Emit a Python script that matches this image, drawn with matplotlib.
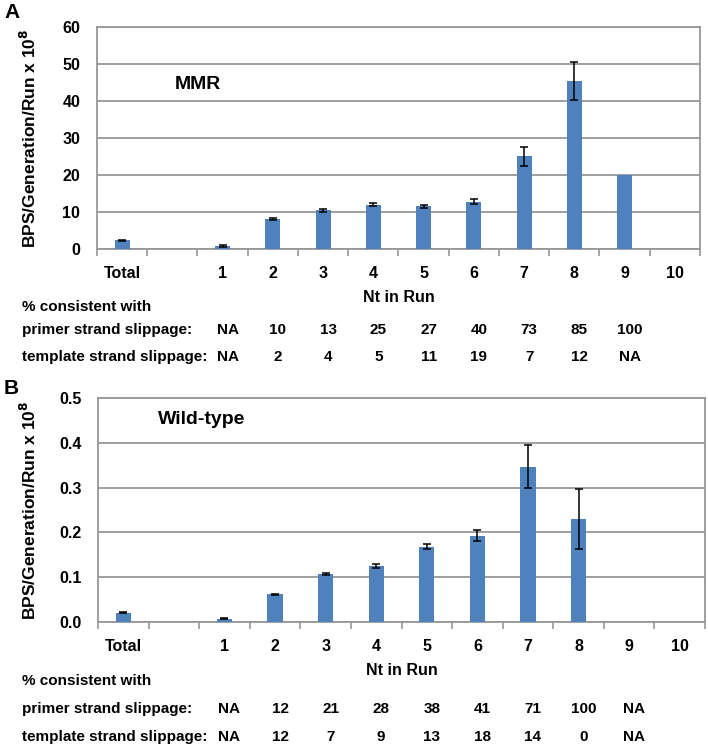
import matplotlib.pyplot as plt
import numpy as np

plt.rcParams['font.family'] = ['Liberation Sans', 'DejaVu Sans']
plt.rcParams['font.weight'] = 'bold'
plt.rcParams['mathtext.default'] = 'bf'

categories = ['Total', '', '1', '2', '3', '4', '5', '6', '7', '8', '9', '10']

# panel A, MMR
mmr_vals = [2.3, 0, 0.8, 8.1, 10.5, 12.0, 11.5, 12.8, 25.1, 45.4, 20.0, 0]
mmr_err = [0.2, 0, 0.15, 0.3, 0.4, 0.4, 0.5, 0.7, 2.6, 5.2, 0, 0]
mmr_primer = ['NA', '10', '13', '25', '27', '40', '73', '85', '100']
mmr_template = ['NA', '2', '4', '5', '11', '19', '7', '12', 'NA']

# panel B, wild-type
wt_vals = [0.021, 0, 0.0075, 0.062, 0.108, 0.125, 0.168, 0.193, 0.346, 0.230, 0, 0]
wt_err = [0.001, 0, 0.001, 0.001, 0.002, 0.004, 0.006, 0.013, 0.048, 0.066, 0, 0]
wt_primer = ['NA', '12', '21', '28', '38', '41', '71', '100', 'NA']
wt_template = ['NA', '12', '7', '9', '13', '18', '14', '0', 'NA']

# table columns sit under Nt = 1..9
table_cols = ['1', '2', '3', '4', '5', '6', '7', '8', '9']

bar_color = '#4F81BD'
grid_color = '#979797'
W, H = 708.0, 746.0

fig = plt.figure(figsize=(7.08, 7.46), dpi=100)
axA = fig.add_axes([97 / W, 1 - 249 / H, 603 / W, 222 / H])
axB = fig.add_axes([98 / W, 1 - 622 / H, 607 / W, 224 / H])


def draw_panel(ax, vals, err, ymax, ystep, fmt, name, name_xy):
    x = np.arange(len(categories))
    e = [v if v > 0 else np.nan for v in err]
    ax.bar(x, vals, width=0.3, color=bar_color, zorder=3)
    ax.errorbar(x, vals, yerr=e, fmt='none', ecolor='black',
                elinewidth=1.1, capsize=2.8, capthick=1.1, zorder=4)
    ax.set_xlim(-0.5, len(categories) - 0.5)
    ax.set_ylim(0, ymax)
    yt = np.arange(0, ymax + ystep / 2, ystep)
    ax.set_yticks(yt)
    ax.set_yticklabels([fmt.format(v) for v in yt], fontsize=11.5, fontweight='bold')
    ax.yaxis.grid(True, color=grid_color, linewidth=1.3, zorder=0)
    ax.tick_params(axis='y', length=0, pad=12)
    # outward ticks between categories, labels centred on the bars
    ax.set_xticks(np.arange(len(categories) + 1) - 0.5)
    ax.set_xticklabels([])
    ax.set_xticks(x, minor=True)
    ax.set_xticklabels(categories, minor=True, fontsize=11.5, fontweight='bold')
    ax.tick_params(axis='x', which='major', length=5, width=1.2,
                   color=grid_color, direction='out')
    ax.tick_params(axis='x', which='minor', length=0, pad=12)
    for s in ax.spines.values():
        s.set_color(grid_color)
        s.set_linewidth(1.3)
    ax.set_ylabel('BPS/Generation/Run x 10$^{8}$', fontsize=12.5, fontweight='bold')
    ax.yaxis.set_label_coords(-0.097, 0.5)
    ax.set_xlabel('Nt in Run', fontsize=11.5, fontweight='bold')
    ax.xaxis.set_label_coords(0.5, -0.185)
    ax.text(name_xy[0], name_xy[1], name, transform=ax.transAxes,
            fontsize=14, fontweight='bold', ha='center', va='center')


draw_panel(axA, mmr_vals, mmr_err, 60, 10, '{:.0f}', 'MMR', (0.167, 0.739))
draw_panel(axB, wt_vals, wt_err, 0.5, 0.1, '{:.1f}', 'Wild-type', (0.17, 0.905))

tables = [
    (axA, (307, 330, 357), mmr_primer, mmr_template),
    (axB, (681, 709, 737), wt_primer, wt_template),
]
for ax, (y_head, y_p, y_t), primer, template in tables:
    fig.text(22 / W, 1 - y_head / H, '% consistent with', fontsize=11,
             fontweight='bold', va='center')
    fig.text(22 / W, 1 - y_p / H, 'primer strand slippage:', fontsize=11,
             fontweight='bold', va='center')
    fig.text(22 / W, 1 - y_t / H, 'template strand slippage:', fontsize=11,
             fontweight='bold', va='center')
    for col, p, t in zip(table_cols, primer, template):
        xd = categories.index(col)
        xf = fig.transFigure.inverted().transform(ax.transData.transform((xd, 0)))[0]
        xf += 5 / W
        fig.text(xf, 1 - y_p / H, p, fontsize=11, fontweight='bold',
                 ha='center', va='center')
        fig.text(xf, 1 - y_t / H, t, fontsize=11, fontweight='bold',
                 ha='center', va='center')

fig.text(4 / W, 1 - 12 / H, 'A', fontsize=15, fontweight='bold', va='center')
fig.text(4 / W, 1 - 388 / H, 'B', fontsize=15, fontweight='bold', va='center')

fig.savefig('out.png', dpi=100)
